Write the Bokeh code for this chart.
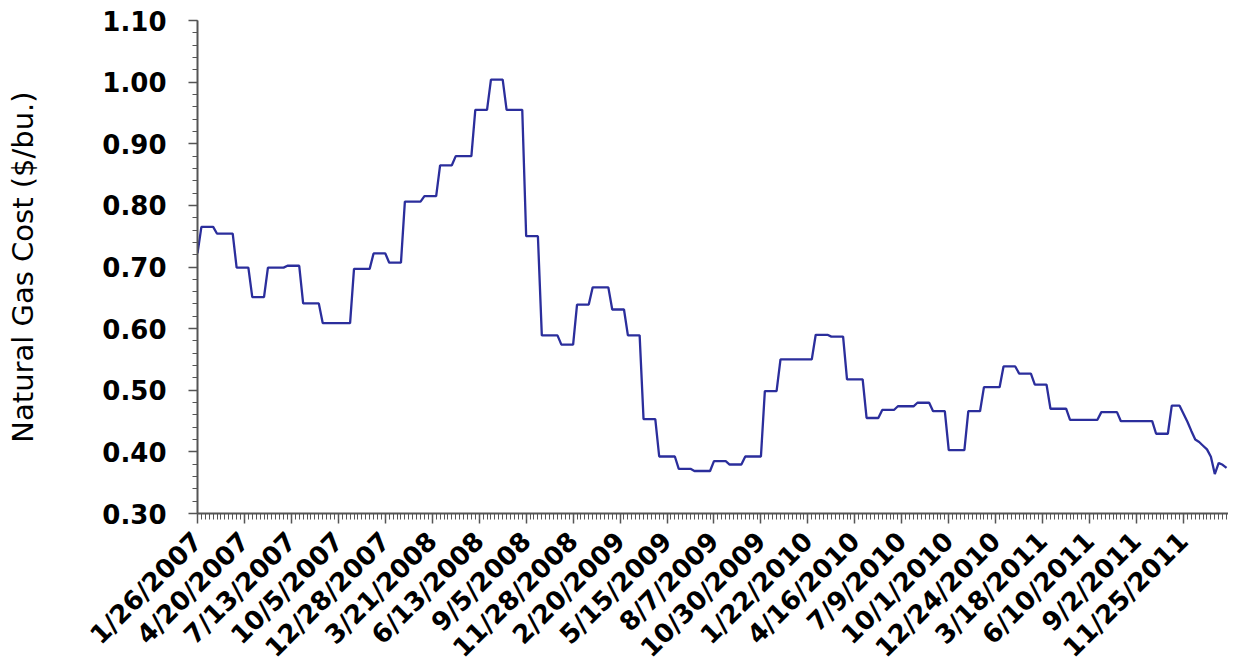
import math
from bokeh.plotting import figure
from bokeh.models import FixedTicker, Range1d, NumeralTickFormatter, ColumnDataSource
from bokeh.embed import file_html
from bokeh.resources import INLINE

# ---- data (weekly natural gas cost, $/bu.) ----
# x tick labels, one every 12 weeks starting 1/26/2007
tick_labels = ["1/26/2007", "4/20/2007", "7/13/2007", "10/5/2007", "12/28/2007",
               "3/21/2008", "6/13/2008", "9/5/2008", "11/28/2008", "2/20/2009",
               "5/15/2009", "8/7/2009", "10/30/2009", "1/22/2010", "4/16/2010",
               "7/9/2010", "10/1/2010", "12/24/2010", "3/18/2011", "6/10/2011",
               "9/2/2011", "11/25/2011"]
weeks_per_label = 12

# step levels (value held for a number of weeks)
step_values = [0.722, 0.765, 0.754, 0.699, 0.651, 0.699, 0.702, 0.641, 0.609, 0.697,
               0.722, 0.707, 0.806, 0.815, 0.865, 0.880, 0.955, 1.004, 0.955, 0.750,
               0.589, 0.574, 0.639, 0.667, 0.631, 0.589, 0.453, 0.3925, 0.3725, 0.369,
               0.385, 0.3795, 0.3925, 0.4986, 0.550, 0.590, 0.587, 0.5175, 0.455, 0.468,
               0.474, 0.4797, 0.466, 0.403, 0.466, 0.505, 0.5386, 0.527, 0.509, 0.470,
               0.452, 0.4645, 0.4498, 0.4294, 0.475]
step_weeks = [1, 4, 5, 4, 4, 5, 4, 5, 8, 5,
              4, 4, 5, 4, 4, 5, 4, 4, 5, 4,
              5, 4, 4, 5, 4, 4, 4, 5, 4, 5,
              4, 4, 5, 4, 9, 4, 4, 5, 4, 4,
              5, 4, 4, 5, 4, 5, 4, 4, 4, 5,
              8, 5, 9, 4, 3]
# final weeks (early 2012), one value per week
tail_values = [0.462, 0.449, 0.434, 0.420, 0.416, 0.410, 0.404, 0.392,
               0.364, 0.382, 0.379, 0.374]

y_ticks = [0.30, 0.40, 0.50, 0.60, 0.70, 0.80, 0.90, 1.00, 1.10]
y_minor = [round(0.30 + 0.02 * i, 2) for i in range(41)]

# ---- build weekly series ----
cost = []
for v, n in zip(step_values, step_weeks):
    cost.extend([v] * n)
cost.extend(tail_values)
week = list(range(len(cost)))

src = ColumnDataSource(dict(week=week, cost=cost))

FONT = "DejaVu Sans"
AXIS_COL = "#555555"

p = figure(frame_width=1031, frame_height=493,
           min_border_left=197, min_border_top=20, min_border_right=0, min_border_bottom=150,
           x_range=Range1d(0, 263.5), y_range=Range1d(0.30, 1.10),
           output_backend="svg", toolbar_location=None)

p.line("week", "cost", source=src, line_color="#2b2e9c", line_width=2.3)

p.outline_line_color = None
p.xgrid.grid_line_color = None
p.ygrid.grid_line_color = None
p.background_fill_color = "white"
p.border_fill_color = "white"

# x axis
major_x = [i * weeks_per_label for i in range(len(tick_labels))]
p.xaxis.ticker = FixedTicker(ticks=major_x, minor_ticks=week)
p.xaxis.major_label_overrides = {t: lab for t, lab in zip(major_x, tick_labels)}
p.xaxis.major_label_orientation = math.pi / 4
p.xaxis.major_label_text_font = FONT
p.xaxis.major_label_text_font_style = "bold"
p.xaxis.major_label_text_font_size = "26px"
p.xaxis.major_label_text_color = "black"
p.xaxis.major_label_standoff = 13
p.xaxis.axis_line_color = AXIS_COL
p.xaxis.axis_line_width = 2
p.xaxis.major_tick_line_color = AXIS_COL
p.xaxis.major_tick_line_width = 1.5
p.xaxis.minor_tick_line_color = AXIS_COL
p.xaxis.major_tick_in = 0
p.xaxis.major_tick_out = 10
p.xaxis.minor_tick_in = 0
p.xaxis.minor_tick_out = 6

# y axis
p.yaxis.ticker = FixedTicker(ticks=y_ticks, minor_ticks=y_minor)
p.yaxis.formatter = NumeralTickFormatter(format="0.00")
p.yaxis.major_label_text_font = FONT
p.yaxis.major_label_text_font_style = "bold"
p.yaxis.major_label_text_font_size = "26px"
p.yaxis.major_label_text_color = "black"
p.yaxis.major_label_standoff = 22
p.yaxis.axis_line_color = AXIS_COL
p.yaxis.axis_line_width = 2
p.yaxis.major_tick_line_color = AXIS_COL
p.yaxis.major_tick_line_width = 1.5
p.yaxis.minor_tick_line_color = AXIS_COL
p.yaxis.major_tick_in = 0
p.yaxis.major_tick_out = 9
p.yaxis.minor_tick_in = 0
p.yaxis.minor_tick_out = 5
p.yaxis.axis_label = "Natural Gas Cost ($/bu.)"
p.yaxis.axis_label_text_font = FONT
p.yaxis.axis_label_text_font_style = "normal"
p.yaxis.axis_label_text_font_size = "29px"
p.yaxis.axis_label_text_color = "black"
p.yaxis.axis_label_standoff = 59

open("out.html", "w").write(file_html(p, INLINE))
